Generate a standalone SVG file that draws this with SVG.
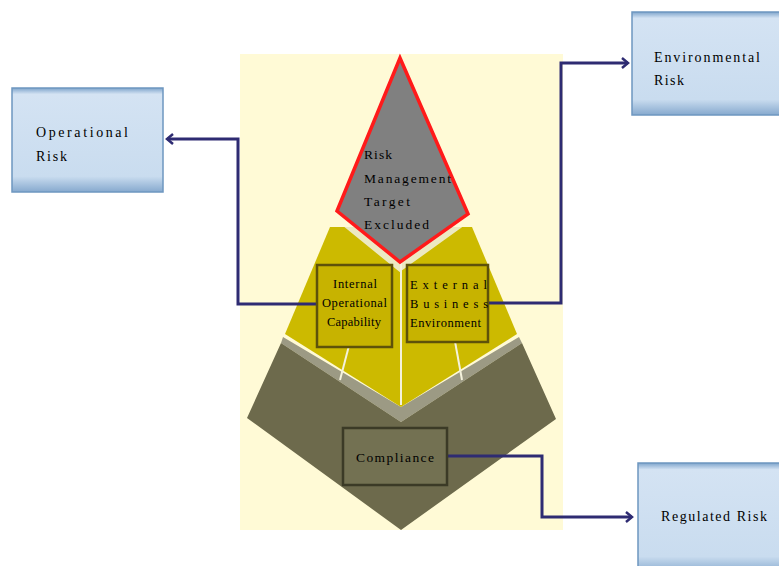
<svg xmlns="http://www.w3.org/2000/svg" width="779" height="566" viewBox="0 0 779 566">
<style>
.t{font-family:"Liberation Serif","DejaVu Serif",serif;fill:#000;}
.ob{fill:url(#blue);stroke:#6E97C0;stroke-width:1.5;}
.ib{fill:#C7B300;stroke:#5E520A;stroke-width:2.5;}
.conn{fill:none;stroke:#2E2B72;stroke-width:3;}
.wl{stroke:#F4F2DC;stroke-width:2;fill:none;}
</style>
<defs>
<linearGradient id="blue" x1="0" y1="0" x2="0" y2="1">
<stop offset="0" stop-color="#7FA5CC"/>
<stop offset="0.06" stop-color="#D4E3F3"/>
<stop offset="0.85" stop-color="#C9DCEF"/>
<stop offset="1" stop-color="#86A9CE"/>
</linearGradient>
<clipPath id="yclip">
<polygon points="330,227 285,334 401,407 517,334 472,227"/>
</clipPath>
<marker id="ah" markerWidth="10" markerHeight="12" refX="7" refY="6" orient="auto" markerUnits="userSpaceOnUse">
<path d="M1,1 L7,6 L1,11" fill="none" stroke="#2E2B72" stroke-width="2.5"/>
</marker>
<marker id="wh" markerWidth="8" markerHeight="8" refX="4" refY="4" orient="auto" markerUnits="userSpaceOnUse">
<path d="M0,1 L5,4 L0,7 Z" fill="#F4F2DC"/>
</marker>
</defs>
<rect x="0" y="0" width="779" height="566" fill="#FFFFFF"/>
<rect x="240" y="54" width="323" height="476" fill="#FFFAD6"/>
<g id="pyramid">
<polygon points="283,337 401,407 519,337 522,343 401,422 281,343" fill="#9C9A84"/>
<polygon points="281,343 247,418 401,530 556,419 522,343 401,422" fill="#6D6A4C"/>
<polygon points="330,227 285,334 401,407 517,334 472,227" fill="#CCBA00"/>
<polyline points="330,205 400,262 475,208" fill="none" stroke="#ECE9C2" stroke-width="16" clip-path="url(#yclip)"/>
<line class="wl" x1="401" y1="262" x2="401" y2="405"/>
<line class="wl" x1="340" y1="380" x2="351" y2="338" marker-end="url(#wh)"/>
<line class="wl" x1="462" y1="380" x2="454" y2="336" marker-end="url(#wh)"/>
</g>
<g id="kite">
<polygon points="400,58 468,214 400,262 337,211" fill="#808080" stroke="#FF1A1A" stroke-width="3.5" stroke-linejoin="miter"/>
<text class="t" font-size="13.5" x="364" y="159" textLength="28" lengthAdjust="spacing">Risk</text>
<text class="t" font-size="13.5" x="364" y="183" textLength="87" lengthAdjust="spacing">Management</text>
<text class="t" font-size="13.5" x="364" y="206" textLength="46" lengthAdjust="spacing">Target</text>
<text class="t" font-size="13.5" x="364" y="229" textLength="65" lengthAdjust="spacing">Excluded</text>
</g>
<g id="connectors">
<polyline class="conn" points="317,304 238,304 238,139 167,139" marker-end="url(#ah)"/>
<polyline class="conn" points="488,303 561,303 561,63 628,63" marker-end="url(#ah)"/>
<polyline class="conn" points="447,456 542,456 542,517 632,517" marker-end="url(#ah)"/>
</g>
<g id="internal">
<rect class="ib" x="317" y="265" width="75" height="82"/>
<text class="t" font-size="12.5" x="333" y="288" textLength="44" lengthAdjust="spacing">Internal</text>
<text class="t" font-size="12.5" x="322" y="307" textLength="65" lengthAdjust="spacing">Operational</text>
<text class="t" font-size="12.5" x="327" y="326" textLength="54" lengthAdjust="spacing">Capability</text>
</g>
<g id="external">
<rect class="ib" x="407" y="265" width="81" height="77"/>
<text class="t" font-size="12.5" x="410" y="289" textLength="77" lengthAdjust="spacing">External</text>
<text class="t" font-size="12.5" x="410" y="308" textLength="78" lengthAdjust="spacing">Business</text>
<text class="t" font-size="12.5" x="410" y="327" textLength="71" lengthAdjust="spacing">Environment</text>
</g>
<g id="compliance">
<rect x="343" y="428" width="104" height="57" fill="#737152" stroke="#3B3A26" stroke-width="2.5"/>
<text class="t" font-size="13.5" x="356" y="462" textLength="78" lengthAdjust="spacing">Compliance</text>
</g>
<g id="operational-risk">
<rect class="ob" x="12" y="88" width="151" height="104"/>
<text class="t" font-size="14" x="36" y="137" textLength="92" lengthAdjust="spacing">Operational</text>
<text class="t" font-size="14" x="36" y="161" textLength="31" lengthAdjust="spacing">Risk</text>
</g>
<g id="environmental-risk">
<rect class="ob" x="632" y="12" width="152" height="103"/>
<text class="t" font-size="14" x="654" y="62" textLength="106" lengthAdjust="spacing">Environmental</text>
<text class="t" font-size="14" x="654" y="85" textLength="30" lengthAdjust="spacing">Risk</text>
</g>
<g id="regulated-risk">
<rect class="ob" x="638" y="463" width="150" height="110"/>
<text class="t" font-size="14" x="661" y="521" textLength="106" lengthAdjust="spacing">Regulated Risk</text>
</g>
</svg>
